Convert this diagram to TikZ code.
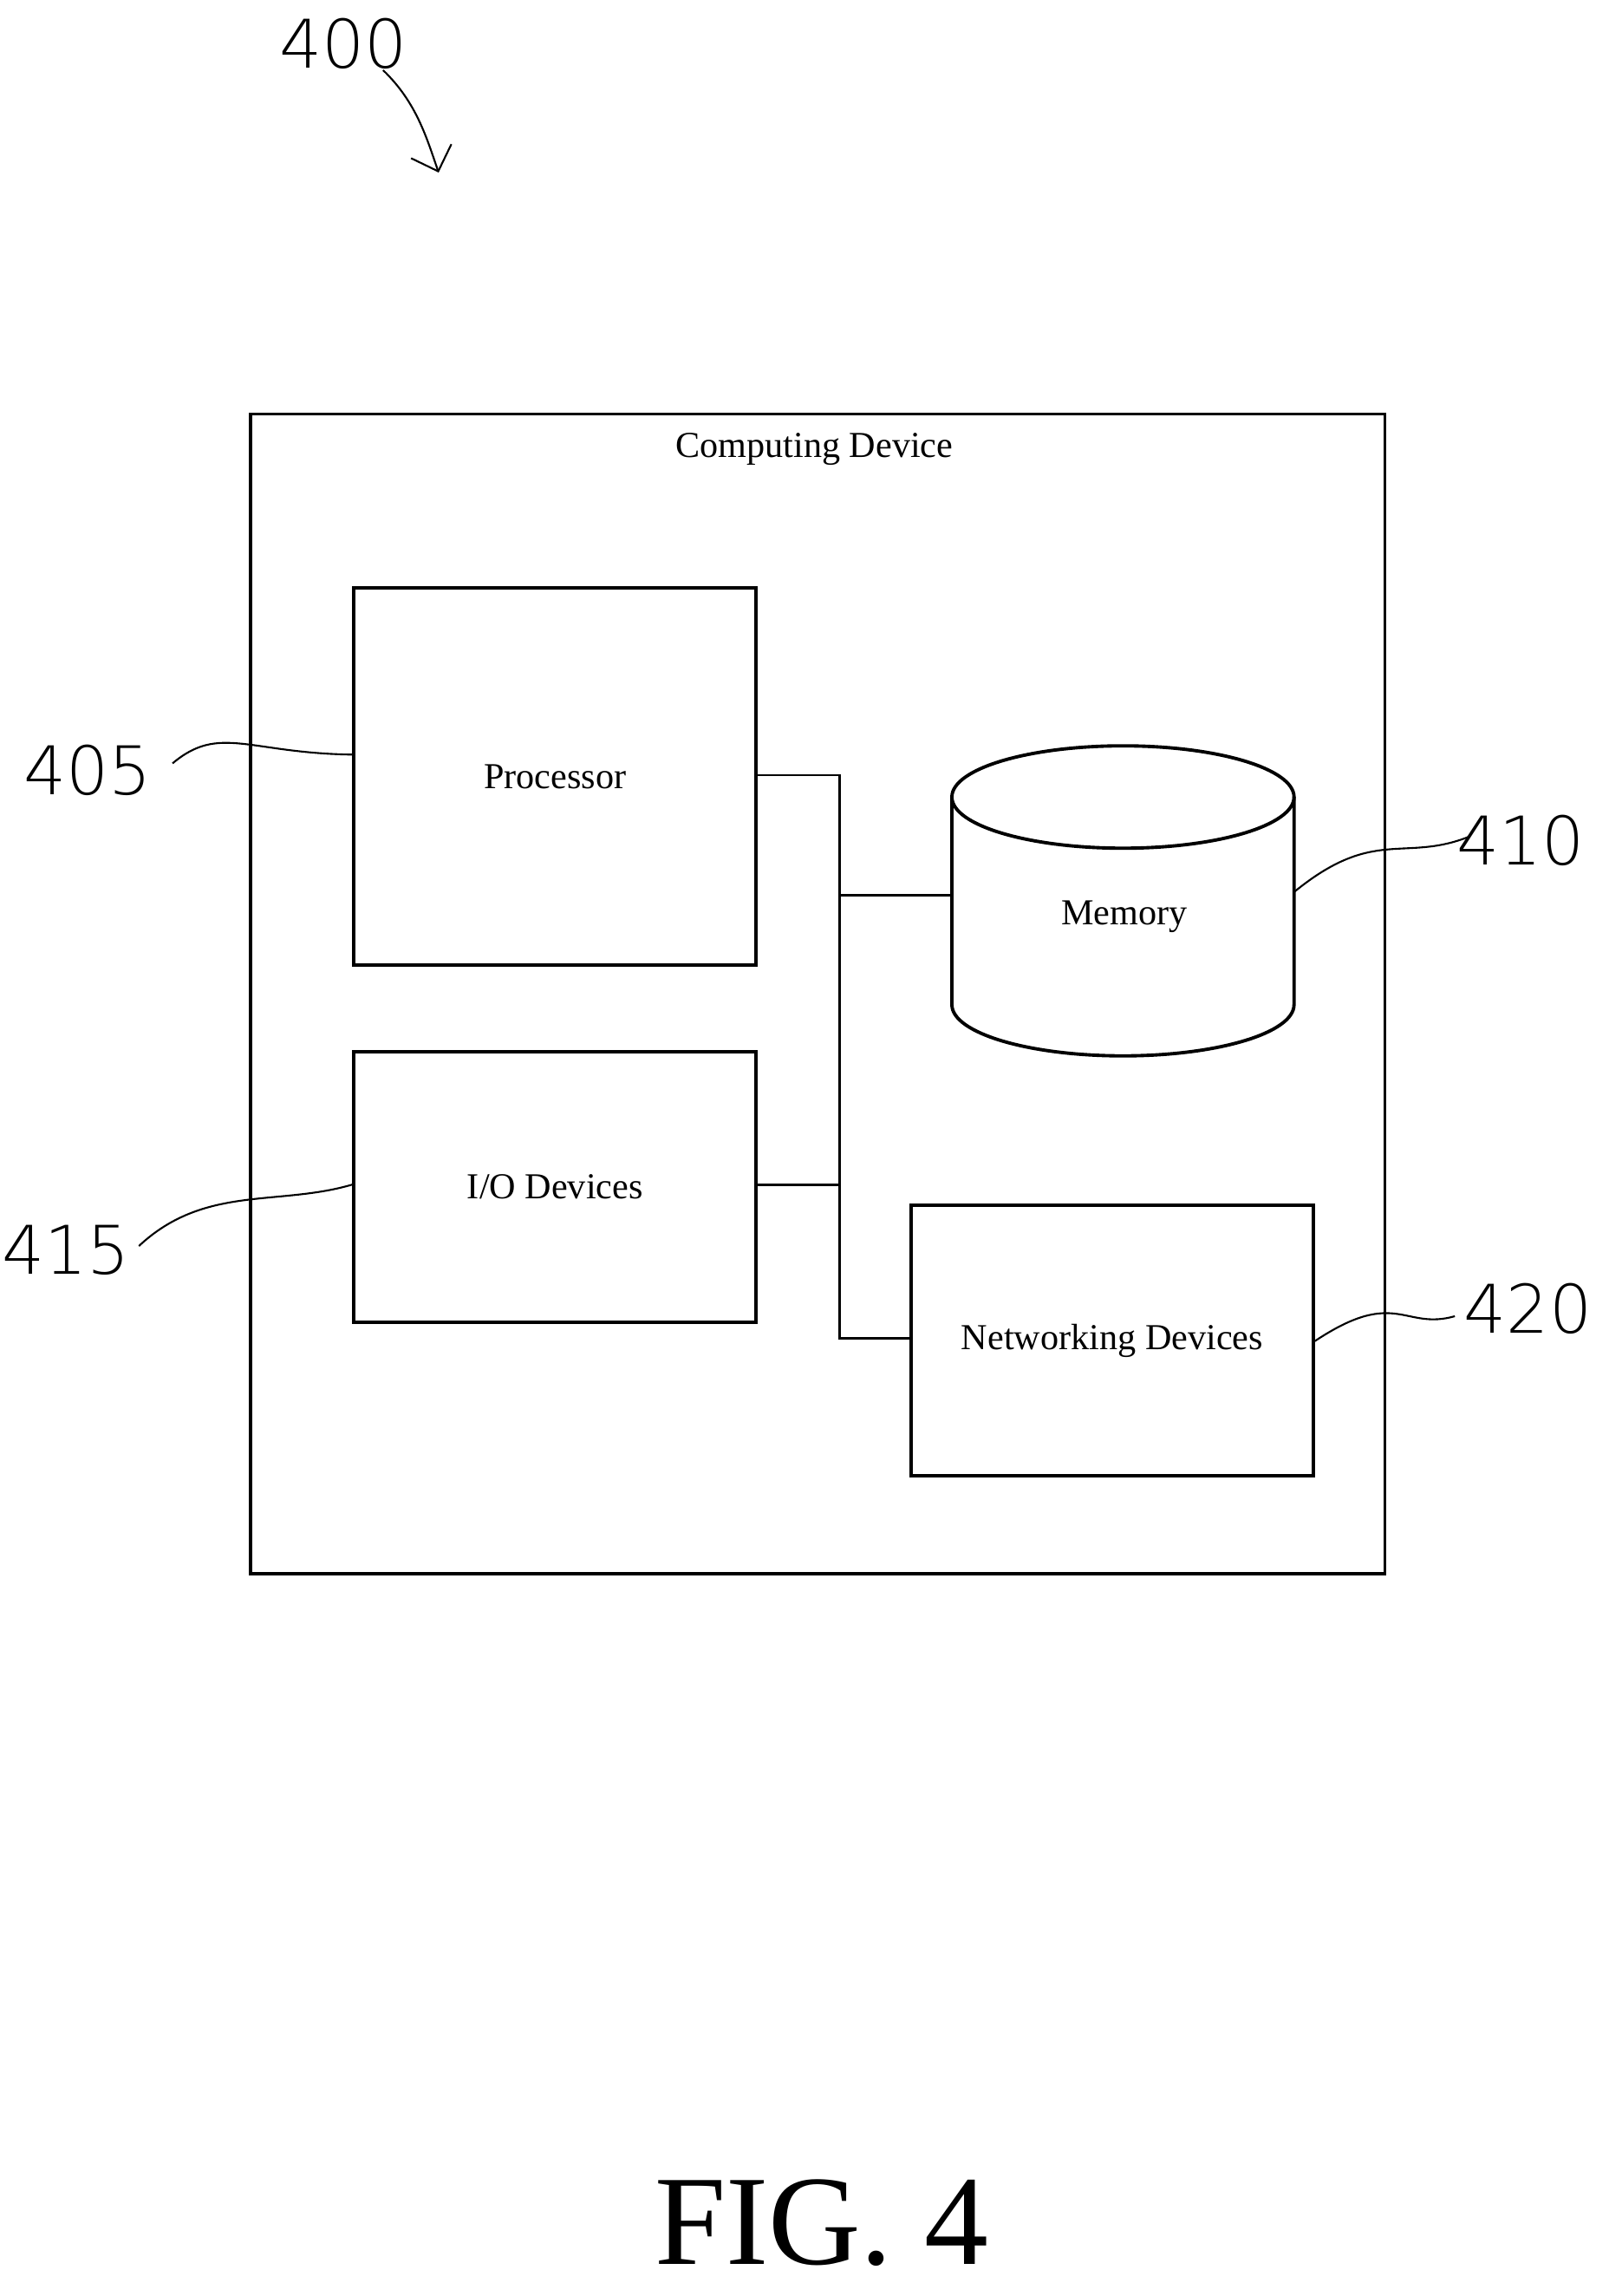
\documentclass[tikz,border=0pt]{standalone}
\usepackage{fontspec}
\setmainfont{Liberation Serif}
\newfontfamily\handfont{DejaVu Sans ExtraLight}
\usetikzlibrary{arrows.meta}
\newcommand{\pu}{0.01686cm}
\begin{document}
\begin{tikzpicture}[x=0.01686cm,y=-0.01686cm]
            % Styles
            \tikzset{box/.style = {draw,line width=1.1pt,inner sep=0pt,anchor=north west},
                     bus/.style = {line width=0.8pt},
                     lead/.style = {line width=0.6pt},
                     refnum/.style = {font=\handfont\fontsize{22}{22}\selectfont},
                     lbl/.style = {font=\fontsize{12}{14}\selectfont}}
            \useasboundingbox (0,0) rectangle (1100,1570);
            % Outer device
            	\node (dev) at (170,282) [box,minimum width=776*\pu,minimum height=793*\pu]{};
            	\node (devlbl) at (557,307) [lbl]{Computing Device};
            % Components
            	\node (proc) at (241,401) [box,minimum width=275*\pu,minimum height=258*\pu]{};
            	\node at (proc.center) [lbl]{Processor};
            	\node (io) at (241,718) [box,minimum width=275*\pu,minimum height=185*\pu]{};
            	\node at (io.center) [lbl]{I/O Devices};
            	\node (net) at (622,823) [box,minimum width=275*\pu,minimum height=185*\pu]{};
            	\node at (net.center) [lbl]{Networking Devices};
            	% Memory cylinder
            	\node (mem) at (768,612) [minimum width=234*\pu,minimum height=220*\pu]{};
            	\draw [line width=1.1pt] (651,545) -- (651,687) arc[start angle=180,end angle=360,x radius=117,y radius=-35] -- (885,545);
            	\draw [line width=1.1pt] (768,545) ellipse[x radius=117,y radius=35];
            	\node at (769,627) [lbl]{Memory};
            % Bus
            	\coordinate (btop) at (574,530);
            	\coordinate (bbot) at (574,915);
            	\draw [bus] (proc.east |- btop) -- (btop) -- (bbot) -- (net.west |- bbot);
            	\draw [bus] (574,612) -- (mem.west |- 0,612);
            	\draw [bus] (io.east |- 0,810) -- (574,810);
            % Reference numerals
            	\node (n400) at (235,30) [refnum]{400};
            	\draw [lead,-{Straight Barb[length=7pt]}] (262,48) .. controls (285,70) and (292,95) .. (300,118);
            	\node (n405) at (60,527) [refnum]{405};
            	\draw [lead] (118,522) .. controls (150,495) and (170,515) .. (proc.west |- 0,516);
            	\node (n410) at (1040,575) [refnum]{410};
            	\draw [lead] (1005,572) .. controls (960,590) and (940,565) .. (885,610);
            	\node (n415) at (45,855) [refnum]{415};
            	\draw [lead] (95,852) .. controls (140,810) and (190,825) .. (io.west |- 0,810);
            	\node (n420) at (1045,895) [refnum]{420};
            	\draw [lead] (995,900) .. controls (960,910) and (955,880) .. (net.east |- 0,917);
            % Figure title
            	\node (fig) at (562,1520) [font=\fontsize{42}{46}\selectfont]{FIG. 4};
\end{tikzpicture}
\end{document}
